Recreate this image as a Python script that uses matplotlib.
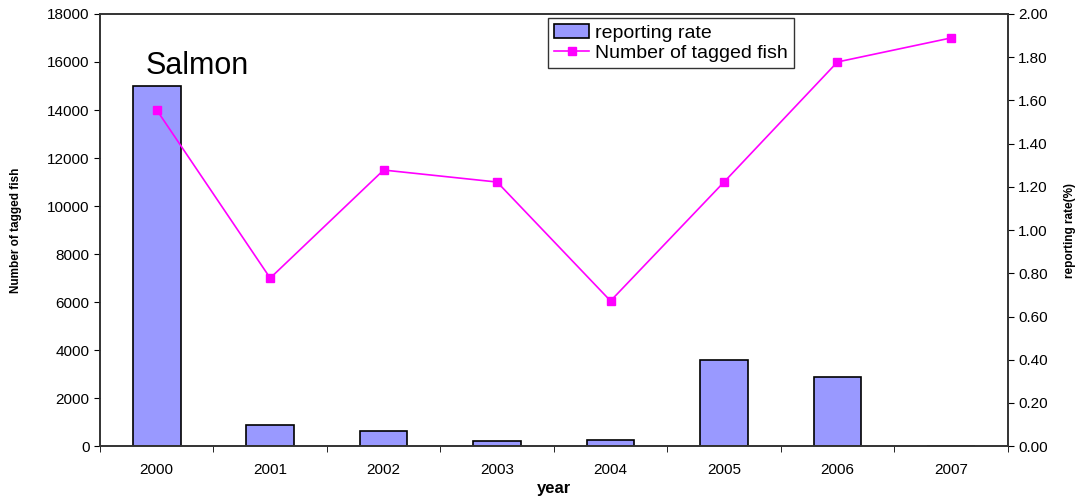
import matplotlib.pyplot as plt
import numpy as np

plt.rcParams['font.family'] = ['Liberation Sans', 'DejaVu Sans']

years = ['2000', '2001', '2002', '2003', '2004', '2005', '2006', '2007']
reporting_rate = [1.667, 0.10, 0.069, 0.026, 0.031, 0.40, 0.32, 0.0]
tagged_fish = [14000, 7000, 11500, 11000, 6050, 11000, 16000, 17000]

x = np.arange(len(years))

fig = plt.figure(figsize=(10.87, 4.98), dpi=100)
ax = fig.add_axes([0.092, 0.104, 0.835, 0.868])
ax2 = ax.twinx()

# bars belong to the right axis, line to the left one
ax.bar(x, reporting_rate, width=0.42, color='#9999ff', edgecolor='black',
       linewidth=1.2, label='reporting rate')
ax.yaxis.tick_right()
ax.yaxis.set_label_position('right')
ax.set_ylim(0, 2.0)
ax.set_yticks(np.arange(0, 2.01, 0.2))
ax.set_yticklabels(['%.2f' % v for v in np.arange(0, 2.01, 0.2)], fontsize=11)
ax.set_ylabel('reporting rate(%)', fontsize=8.5, fontweight='bold', labelpad=12)

ax2.plot(x, tagged_fish, color='#ff00ff', marker='s', markersize=6,
         linewidth=1.2, label='Number of tagged fish')
ax2.yaxis.tick_left()
ax2.yaxis.set_label_position('left')
ax2.set_ylim(0, 18000)
ax2.set_yticks(np.arange(0, 18001, 2000))
ax2.tick_params(axis='y', labelsize=11)
ax2.set_ylabel('Number of tagged fish', fontsize=8.5, fontweight='bold', labelpad=18)

ax.set_xlim(-0.5, 7.5)
ax.set_xticks(x)
ax.set_xticklabels(years, fontsize=11)
ax.set_xticks(np.arange(-0.5, 7.6, 1), minor=True)
ax.tick_params(axis='x', which='major', length=0, pad=12)
ax.tick_params(axis='x', which='minor', length=4, direction='out')
ax.tick_params(axis='y', length=4, direction='out')
ax2.tick_params(axis='y', length=4, direction='out')
ax.set_xlabel('year', fontsize=12, fontweight='bold', labelpad=3)

for a in (ax, ax2):
    for s in a.spines.values():
        s.set_linewidth(1.2)
        s.set_color('#333333')

ax.text(0.05, 0.86, 'Salmon', transform=ax.transAxes, fontsize=22)

h1, l1 = ax.get_legend_handles_labels()
h2, l2 = ax2.get_legend_handles_labels()
leg = ax2.legend(h1 + h2, l1 + l2, loc='upper left', bbox_to_anchor=(0.494, 0.99),
                 fontsize=14, frameon=True, fancybox=False, edgecolor='black',
                 borderpad=0.3, labelspacing=0.15, handlelength=1.8, handletextpad=0.3,
                 borderaxespad=0)
leg.get_frame().set_linewidth(1.0)

fig.savefig('out.png', dpi=100)
